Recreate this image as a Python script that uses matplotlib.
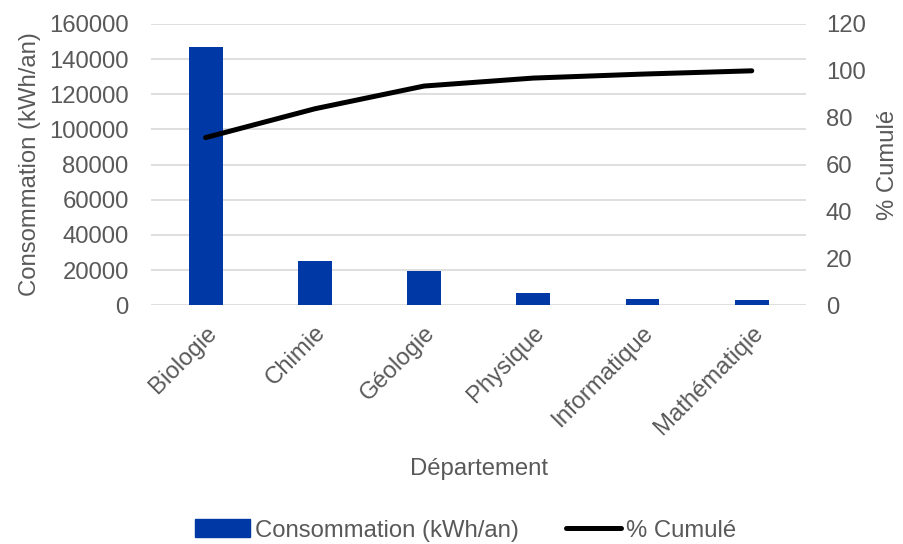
import matplotlib.pyplot as plt
from matplotlib.patches import Patch
from matplotlib.lines import Line2D

plt.rcParams['font.family'] = ['Liberation Sans', 'DejaVu Sans']

# departements, consumption per year and cumulative share
departements = ["Biologie", "Chimie", "Géologie", "Physique", "Informatique", "Mathématiqie"]
consommation = [147000, 25100, 19700, 6900, 3400, 2700]
pct_cumule = [71.5, 83.8, 93.5, 96.9, 98.6, 100.0]

GREY = "#595959"
BLUE = "#0039A6"
FS = 17.2

fig = plt.figure(figsize=(9.04, 5.44), dpi=100)
ax = fig.add_axes([0.167, 0.439, 0.725, 0.517])
ax2 = ax.twinx()

x = range(len(departements))
ax.bar(x, consommation, width=0.31, color=BLUE, zorder=2)
ax2.plot(x, pct_cumule, color="black", linewidth=3.6, solid_capstyle="round", zorder=3)

ax.set_xlim(-0.5, len(departements) - 0.5)
ax.set_ylim(0, 160000)
ax.set_yticks(range(0, 160001, 20000))
ax2.set_ylim(0, 120)
ax2.set_yticks(range(0, 121, 20))

ax.grid(axis="y", color="#d9d9d9", linewidth=1.2, zorder=0)
ax.set_axisbelow(True)
for a in (ax, ax2):
    for s in a.spines.values():
        s.set_visible(False)
    a.tick_params(length=0, labelsize=FS, colors=GREY)
ax.tick_params(axis="y", pad=16)
ax2.tick_params(axis="y", pad=14)

ax.set_xticks(list(x))
ax.set_xticklabels(departements, rotation=45, ha="right", rotation_mode="anchor")
ax.tick_params(axis="x", pad=12)

ax.set_ylabel("Consommation (kWh/an)", fontsize=FS, color=GREY, labelpad=6)
ax2.set_ylabel("% Cumulé", fontsize=FS, color=GREY, labelpad=8)
ax.set_xlabel("Département", fontsize=FS, color=GREY, labelpad=14)

handles = [Patch(color=BLUE), Line2D([], [], color="black", linewidth=3.6, solid_capstyle="round")]
fig.legend(handles, ["Consommation (kWh/an)", "% Cumulé"], loc="center",
           bbox_to_anchor=(0.515, 0.025), ncol=2, frameon=False, fontsize=FS,
           labelcolor=GREY, handlelength=2.3, handletextpad=0.2, columnspacing=2.0,
           handleheight=0.8)

fig.savefig("out.png", dpi=100)
